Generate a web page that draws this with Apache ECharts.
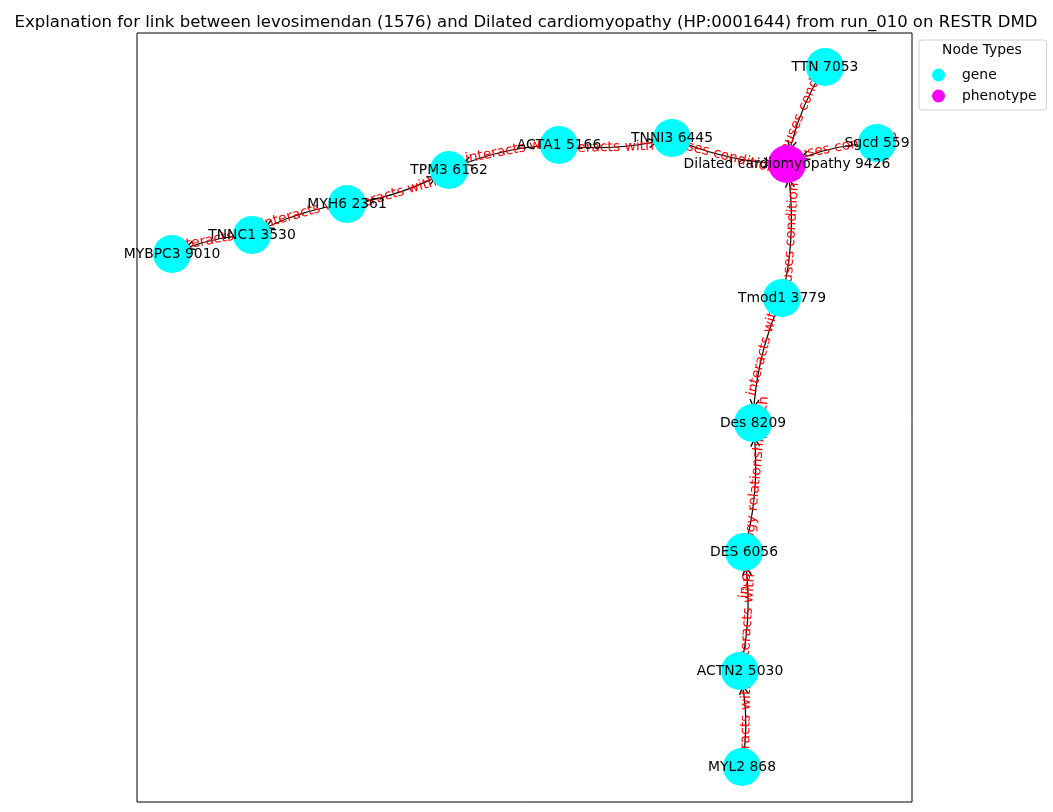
<!DOCTYPE html>
<html>
<head>
<meta charset="utf-8">
<script src="https://cdn.jsdelivr.net/npm/echarts@6/dist/echarts.min.js"></script>
<style>
  html, body { margin: 0; padding: 0; background: #fff; }
  #chart { width: 1053px; height: 812px; }
</style>
</head>
<body>
<div id="chart"></div>
<script>
// nodes (layout units: x to the right, y upward)
const nodeNames = ['MYBPC3 9010', 'TNNC1 3530', 'MYH6 2361', 'TPM3 6162', 'ACTA1 5166', 'TNNI3 6445',
    'Dilated cardiomyopathy 9426', 'TTN 7053', 'Sgcd 559', 'Tmod1 3779', 'Des 8209', 'DES 6056',
    'ACTN2 5030', 'MYL2 868'];
const nodeTypes = ['gene', 'gene', 'gene', 'gene', 'gene', 'gene',
    'phenotype', 'gene', 'gene', 'gene', 'gene', 'gene', 'gene', 'gene'];
const nodeX = [35, 115, 210, 312, 422, 535, 650, 688, 740, 645, 616, 607, 603, 605];
const nodeY = [548, 567, 598, 632, 657, 664, 638, 735, 659, 504, 379, 250, 131, 35];

// edges
const edgeSources = ['TNNC1 3530', 'MYH6 2361', 'MYH6 2361', 'ACTA1 5166', 'ACTA1 5166', 'TNNI3 6445',
    'TTN 7053', 'Sgcd 559', 'Tmod1 3779', 'Tmod1 3779', 'DES 6056', 'ACTN2 5030', 'MYL2 868'];
const edgeTargets = ['MYBPC3 9010', 'TNNC1 3530', 'TPM3 6162', 'TPM3 6162', 'TNNI3 6445',
    'Dilated cardiomyopathy 9426', 'Dilated cardiomyopathy 9426', 'Dilated cardiomyopathy 9426',
    'Dilated cardiomyopathy 9426', 'Des 8209', 'Des 8209', 'DES 6056', 'ACTN2 5030'];
const edgeLabels = ['interacts with', 'interacts with', 'interacts with', 'interacts with', 'interacts with',
    'causes condition', 'causes condition', 'causes condition', 'causes condition', 'interacts with',
    'in orthology relationship with', 'interacts with', 'interacts with'];

const typeNames = ['gene', 'phenotype'];
const typeColors = ['#00ffff', '#ff00ff'];

const FONT = 'DejaVu Sans';
const chart = echarts.init(document.getElementById('chart'));

// graph series carries the edges (nodes invisible, used only for arrow clipping)
const graphNodes = nodeNames.map((n, i) => ({ name: n, value: [nodeX[i], nodeY[i]] }));
const links = edgeSources.map((s, i) => ({
    source: s,
    target: edgeTargets[i],
    label: { formatter: edgeLabels[i] }
}));

// visible nodes drawn on top, one scatter series per node type
const nodeSeries = typeNames.map((t, k) => ({
    name: t,
    type: 'scatter',
    z: 10,
    symbol: 'circle',
    symbolSize: 38,
    itemStyle: { color: typeColors[k], opacity: 1 },
    data: nodeNames.map((n, i) => ({ name: n, value: [nodeX[i], nodeY[i]] }))
        .filter((d, i) => nodeTypes[i] === t),
    label: {
        show: true,
        position: 'inside',
        formatter: '{b}',
        fontFamily: FONT,
        fontSize: 13.9,
        color: '#000'
    },
    emphasis: { disabled: true }
}));

const option = {
    animation: false,
    title: {
        text: 'Explanation for link between levosimendan (1576) and Dilated cardiomyopathy (HP:0001644) from run_010 on RESTR DMD',
        left: 521,
        top: 9,
        textAlign: 'center',
        textStyle: { fontFamily: FONT, fontSize: 16.5, fontWeight: 'normal', color: '#000' }
    },
    grid: {
        left: 137, top: 33, width: 775, height: 769,
        show: true, borderColor: '#000', borderWidth: 1, backgroundColor: '#fff'
    },
    xAxis: {
        type: 'value', min: 0, max: 775,
        axisLine: { show: false }, axisTick: { show: false }, axisLabel: { show: false }, splitLine: { show: false }
    },
    yAxis: {
        type: 'value', min: 0, max: 769,
        axisLine: { show: false }, axisTick: { show: false }, axisLabel: { show: false }, splitLine: { show: false }
    },
    legend: {
        data: typeNames,
        orient: 'vertical',
        left: 919,
        top: 40,
        padding: [28, 10, 7, 13],
        itemWidth: 13,
        itemHeight: 13,
        itemGap: 7,
        icon: 'circle',
        borderColor: '#d0d0d0',
        borderWidth: 1,
        borderRadius: 3,
        textStyle: { fontFamily: FONT, fontSize: 13.9, color: '#000', padding: [0, 0, 0, 12] }
    },
    graphic: [{
        type: 'text',
        left: 942,
        top: 43,
        style: { text: 'Node Types', font: '13.9px "DejaVu Sans"', fill: '#000' }
    }],
    series: [{
        type: 'graph',
        layout: 'none',
        coordinateSystem: 'cartesian2d',
        z: 2,
        symbol: 'circle',
        symbolSize: 38,
        itemStyle: { opacity: 0 },
        label: { show: false },
        data: graphNodes,
        links: links,
        edgeSymbol: ['none', 'path://M5,0 L10,9 L8.9,10 L5,2.6 L1.1,10 L0,9 Z'],
        edgeSymbolSize: [0, 10],
        lineStyle: { color: '#000', width: 1.2, curveness: -0.1, opacity: 1 },
        edgeLabel: {
            show: true,
            position: 'middle',
            distance: 0,
            verticalAlign: 'middle',
            fontFamily: FONT,
            fontSize: 13.9,
            color: '#ff0000'
        },
        emphasis: { disabled: true }
    }].concat(nodeSeries)
};

chart.setOption(option);
</script>
</body>
</html>
